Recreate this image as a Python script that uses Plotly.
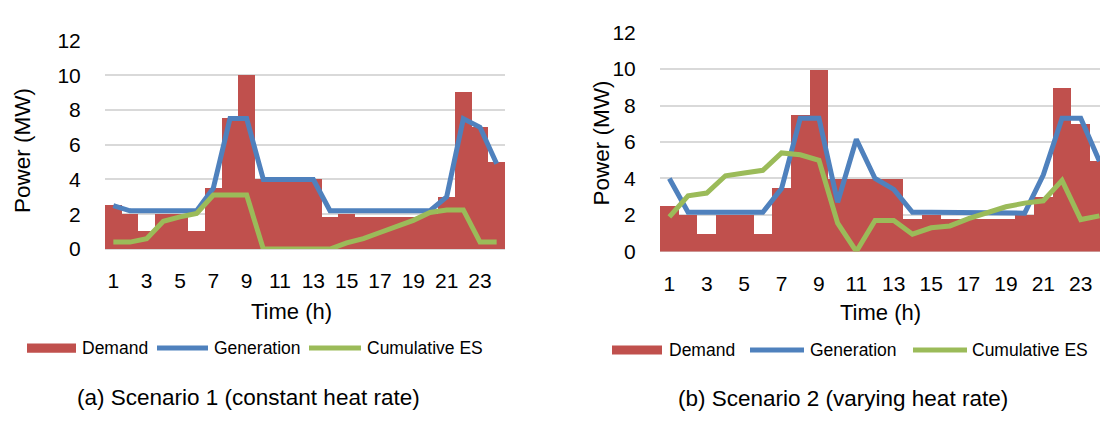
import plotly.graph_objects as go

W, H = 1100, 422

hours = list(range(1, 25))
tick_hours = list(range(1, 24, 2))
tick_labels = [str(h) for h in tick_hours]

demand = [2.5, 2, 1, 2, 2, 1, 3.5, 7.5, 10, 4, 4, 4, 4, 1.8, 2, 1.8, 1.8, 1.8, 1.8, 2, 3, 9, 7, 5]

gen_s1 = [2.5, 2.2, 2.2, 2.2, 2.2, 2.2, 3.5, 7.5, 7.5, 4, 4, 4, 4, 2.2, 2.2, 2.2, 2.2, 2.2, 2.2, 2.2, 3, 7.5, 7, 4.9]
es_s1 = [0.4, 0.4, 0.6, 1.6, 1.85, 2.05, 3.1, 3.1, 3.1, 0, 0, 0, 0, 0, 0.35, 0.6, 0.95, 1.3, 1.65, 2.1, 2.25, 2.25, 0.4, 0.4]

gen_s2 = [4, 2.15, 2.15, 2.15, 2.15, 2.15, 3.45, 7.3, 7.3, 2.7, 6.15, 4, 3.4, 2.15, 2.15, 2.15, 2.15, 2.15, 2.15, 2.1, 4.2, 7.3, 7.3, 4.95]
es_s2 = [1.9, 3.05, 3.2, 4.15, 4.3, 4.45, 5.4, 5.3, 5.0, 1.55, 0, 1.7, 1.7, 0.95, 1.3, 1.4, 1.8, 2.15, 2.45, 2.65, 2.78, 3.9, 1.75, 1.95]

series_names = ["Demand", "Generation", "Cumulative ES"]
captions = ["(a) Scenario 1 (constant heat rate)", "(b) Scenario 2 (varying heat rate)"]
x_title = "Time (h)"
y_title = "Power (MW)"

RED = "#c0504d"
BLUE = "#4f81bd"
GREEN = "#9bbb59"
GRID = "#d9d9d9"
FONT = "Liberation Sans, Arial, sans-serif"


def px(x):
    return x / W


def py(y):
    return 1 - y / H


fig = go.Figure()

for i, (gen, es) in enumerate([(gen_s1, es_s1), (gen_s2, es_s2)]):
    xa = "x" if i == 0 else "x2"
    ya = "y" if i == 0 else "y2"
    fig.add_trace(go.Bar(x=hours, y=demand, name=series_names[0], marker=dict(color=RED, line=dict(width=0)),
                         xaxis=xa, yaxis=ya, width=1.0))
    fig.add_trace(go.Scatter(x=hours, y=gen, name=series_names[1], mode="lines",
                             line=dict(color=BLUE, width=5), xaxis=xa, yaxis=ya))
    fig.add_trace(go.Scatter(x=hours, y=es, name=series_names[2], mode="lines",
                             line=dict(color=GREEN, width=5), xaxis=xa, yaxis=ya))

tickfont = dict(family=FONT, size=21, color="#000000")

xcommon = dict(tickmode="array", tickvals=tick_hours, ticktext=tick_labels, showgrid=False, zeroline=False,
               showline=False, ticks="outside", ticklen=13, tickcolor="rgba(0,0,0,0)", tickfont=tickfont)
ycommon = dict(range=[0, 12], dtick=2, tick0=0, showgrid=True, gridcolor=GRID, gridwidth=1.6,
               zeroline=True, zerolinecolor=GRID, zerolinewidth=1.6, showline=False,
               ticks="outside", ticklen=19, tickcolor="rgba(0,0,0,0)", tickfont=tickfont)

fig.update_layout(
    width=W, height=H, margin=dict(l=0, r=0, t=0, b=0),
    paper_bgcolor="white", plot_bgcolor="white",
    bargap=0, showlegend=False,
    xaxis=dict(domain=[px(105), px(505)], range=[0.5, 24.5], anchor="y", **xcommon),
    yaxis=dict(domain=[py(250.7), py(30)], anchor="x", **ycommon),
    xaxis2=dict(domain=[px(660), 1.0], range=[0.5, 0.5 + 440 / 18.7], anchor="y2", **xcommon),
    yaxis2=dict(domain=[py(253.3), py(21.7)], anchor="x2", **ycommon),
)

annotations = []
shapes = []


def text(x, y, s, size, xanchor="center", angle=0):
    annotations.append(dict(x=px(x), y=py(y), xref="paper", yref="paper", text=s, showarrow=False,
                            xanchor=xanchor, yanchor="middle", textangle=angle,
                            font=dict(family=FONT, size=size, color="#000000")))


# axis titles
text(291, 317, x_title, 22)
text(880, 318, x_title, 22)
text(23, 147, y_title, 22.5, angle=-90)
text(601, 139, y_title, 22.5, angle=-90)

# captions
text(249, 408, captions[0], 22.5)
text(843, 409, captions[1], 22.5)

# legends
legends = [
    dict(y=355.5, rect=(27, 76), gen=(157, 208), es=(309, 361), tx=(80, 212, 365)),
    dict(y=357.5, rect=(612, 662), gen=(750, 804), es=(913, 967), tx=(667, 808, 970)),
]
for lg in legends:
    y = lg["y"]
    shapes.append(dict(type="rect", xref="paper", yref="paper", x0=px(lg["rect"][0]), x1=px(lg["rect"][1]),
                       y0=py(y + 4.8), y1=py(y - 4.8), fillcolor=RED, line=dict(width=0)))
    shapes.append(dict(type="line", xref="paper", yref="paper", x0=px(lg["gen"][0]), x1=px(lg["gen"][1]),
                       y0=py(y), y1=py(y), line=dict(color=BLUE, width=5)))
    shapes.append(dict(type="line", xref="paper", yref="paper", x0=px(lg["es"][0]), x1=px(lg["es"][1]),
                       y0=py(y), y1=py(y), line=dict(color=GREEN, width=5)))
    for name, tx in zip(series_names, lg["tx"]):
        text(tx, y, name, 17.5, xanchor="left")

fig.update_layout(annotations=annotations, shapes=shapes)

fig.write_html("out.html", config={"displayModeBar": False},
               post_script="document.body.style.margin='0';")
